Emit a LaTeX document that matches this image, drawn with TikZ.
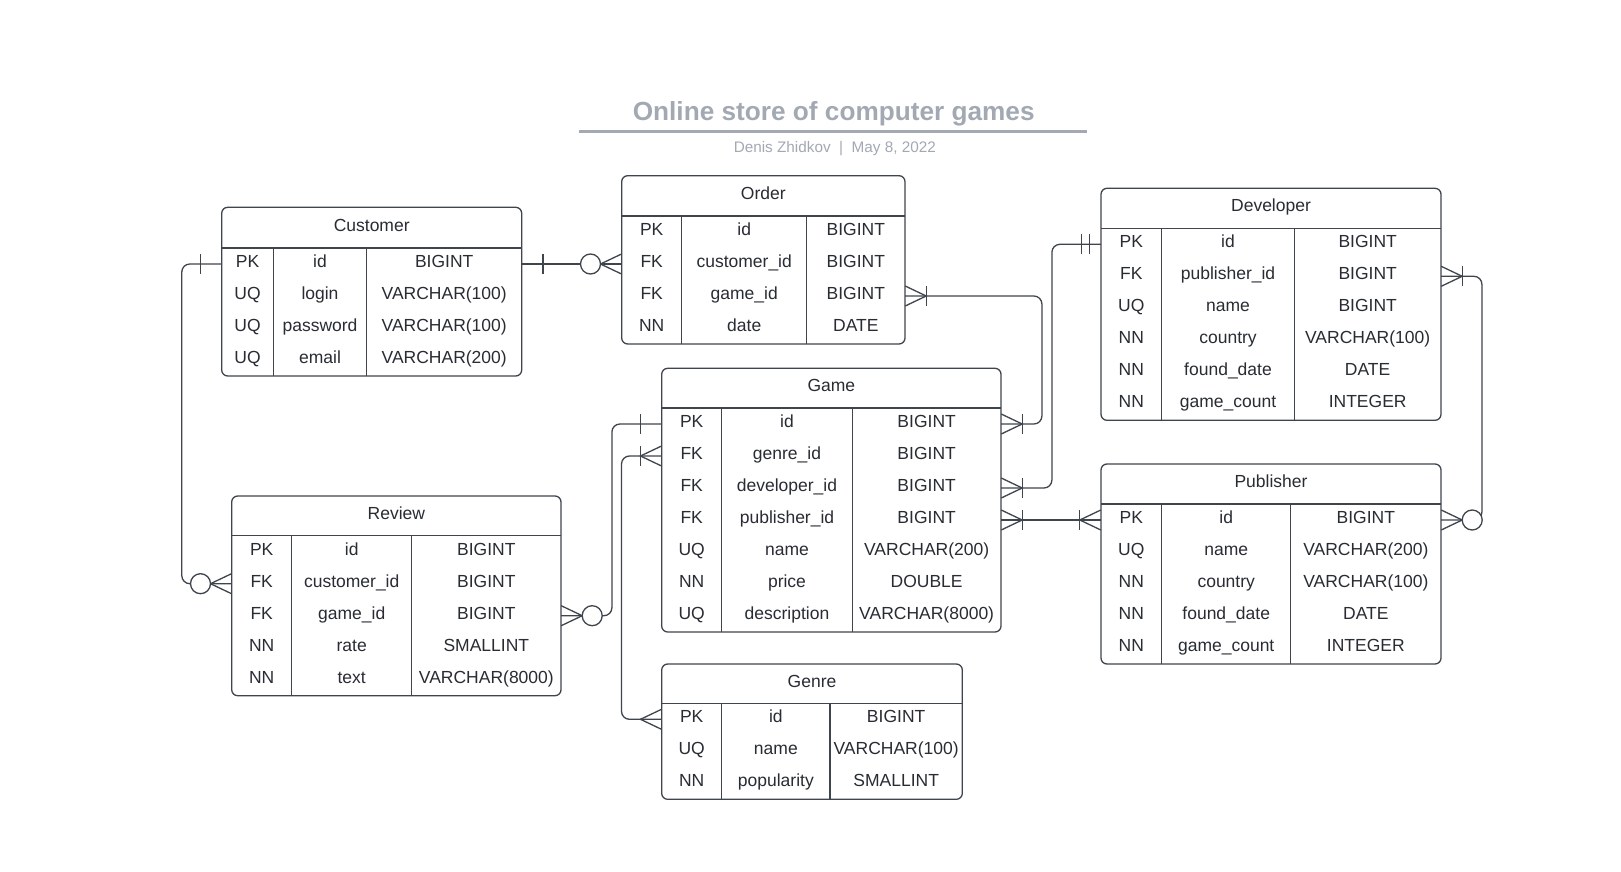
\documentclass[tikz,border=0pt]{standalone}
\usepackage{fontspec}
\setmainfont{Liberation Sans}
\usetikzlibrary{calc}
\definecolor{ink}{HTML}{282C33}
\definecolor{edge}{HTML}{3F454D}
\definecolor{titlegray}{HTML}{A3A9B3}
\tikzset{
  frame/.style={draw=edge, line width=1.3pt},
  conn/.style={draw=edge, line width=1.3pt},
  cell/.style={inner sep=0pt, minimum height=32pt, text=ink, text height=11.5pt, text depth=4.5pt,
    font=\fontsize{17.5}{21}\selectfont, anchor=center},
  hdr/.style={inner sep=0pt, text=ink, text height=11.5pt, text depth=4.5pt, font=\fontsize{17.5}{21}\selectfont},
  crowW/.pic={\draw[conn] (0,-10) -- (-21,0) -- (0,10);},
  crowE/.pic={\draw[conn] (0,-10) -- (21,0) -- (0,10);},
  barW/.pic={\draw[conn] (-21,-10) -- (-21,10);},
  barE/.pic={\draw[conn] (21,-10) -- (21,10);},
  dbarW/.pic={\draw[conn] (-19.3,-10) -- (-19.3,10) (-11,-10) -- (-11,10);},
  ringW/.pic={\draw[conn, fill=white] (-31,0) circle (10);},
  ringE/.pic={\draw[conn, fill=white] (31,0) circle (10);},
}
% #1 name, #2 left, #3 top, #4 col1, #5 col2, #6 right, #7 header bottom, #8 title, #9 rows
\newcommand{\erentity}[9]{%
  \pgfmathsetmacro{\wa}{#4-#2}%
  \pgfmathsetmacro{\wb}{#5-#4}%
  \pgfmathsetmacro{\wc}{#6-#5}%
  \foreach \ka/\fa/\ta [count=\ri] in {#9}{%
    \pgfmathsetmacro{\ry}{#7+32*\ri-16}%
    \node[cell, minimum width=\wa pt] (#1-\ri-k) at ({(#2+#4)/2}, \ry) {\ka};
    \node[cell, minimum width=\wb pt] (#1-\ri-f) at ({(#4+#5)/2}, \ry) {\fa};
    \node[cell, minimum width=\wc pt] (#1-\ri-t) at ({(#5+#6)/2}, \ry) {\ta};
    \xdef\rowcount{\ri}%
  }%
  \pgfmathsetmacro{\rb}{#7+32*\rowcount}%
  \draw[frame, rounded corners=6pt] (#2,#3) rectangle (#6,\rb);
  \draw[frame] (#2,#7) -- (#6,#7) (#4,#7) -- (#4,\rb) (#5,#7) -- (#5,\rb);
  \node[hdr] (#1-title) at ({(#2+#6)/2}, {(#3+#7)/2}) {#8};
}
\begin{document}
\begin{tikzpicture}[x=1pt,y=-1pt]
\fill[white] (0,0) rectangle (1621,872);
\useasboundingbox (0,0) rectangle (1621,872);

% title block
\node[anchor=base, font=\bfseries\fontsize{26.2}{31}\selectfont, text=titlegray, inner sep=0pt] (title) at (833.7,121) {Online store of computer games};
\draw[titlegray, line width=2pt] (579,131.5) -- (1086.5,131.5);
\node[anchor=base, font=\fontsize{15.3}{18}\selectfont, text=titlegray, inner sep=0pt] (subtitle) at (834.8,152) {Denis Zhidkov\ \ |\ \ May 8, 2022};

% entities
\erentity{cust}{221.7}{207.3}{273.3}{366.7}{521.7}{248}{Customer}
  {PK/id/BIGINT, UQ/login/VARCHAR(100), UQ/password/VARCHAR(100), UQ/email/VARCHAR(200)}
\erentity{ord}{621.7}{175.7}{681.7}{806.7}{905}{216}{Order}
  {PK/id/BIGINT, FK/customer\_id/BIGINT, FK/game\_id/BIGINT, NN/date/DATE}
\erentity{dev}{1101}{188.3}{1161.7}{1294.3}{1441}{228.3}{Developer}
  {PK/id/BIGINT, FK/publisher\_id/BIGINT, UQ/name/BIGINT, NN/country/VARCHAR(100), NN/found\_date/DATE, NN/game\_count/INTEGER}
\erentity{rev}{231.7}{496}{291.7}{411.7}{561}{535.7}{Review}
  {PK/id/BIGINT, FK/customer\_id/BIGINT, FK/game\_id/BIGINT, NN/rate/SMALLINT, NN/text/VARCHAR(8000)}
\erentity{game}{661.7}{368.3}{721.7}{852.3}{1001}{408}{Game}
  {PK/id/BIGINT, FK/genre\_id/BIGINT, FK/developer\_id/BIGINT, FK/publisher\_id/BIGINT, UQ/name/VARCHAR(200), NN/price/DOUBLE, UQ/description/VARCHAR(8000)}
\erentity{pub}{1101}{464}{1161.7}{1290.7}{1441}{504}{Publisher}
  {PK/id/BIGINT, UQ/name/VARCHAR(200), NN/country/VARCHAR(100), NN/found\_date/DATE, NN/game\_count/INTEGER}
\erentity{genre}{661.7}{664}{721.7}{830}{962.3}{703.3}{Genre}
  {PK/id/BIGINT, UQ/name/VARCHAR(100), NN/popularity/SMALLINT}

% connectors
\draw[conn] (cust-1-t.east) -- (ord-2-k.west);
\draw[conn, rounded corners=8pt] (cust-1-k.west) -- ++(-39.7,0) |- (rev-2-k.west);
\draw[conn, rounded corners=8pt] (rev-3-t.east) -- ++(50.7,0) |- (game-1-k.west);
\draw[conn, rounded corners=8pt] (game-2-k.west) -- ++(-40,0) |- (genre-1-k.west);
\draw[conn, rounded corners=8pt] (ord-3-t.east) -- ++(136.7,0) |- (game-1-t.east);
\draw[conn, rounded corners=8pt] (game-3-t.east) -- ++(50.7,0) |- (dev-1-k.west);
\draw[conn] (game-4-t.east) -- (pub-1-k.west);
\draw[conn, rounded corners=8pt] (dev-2-t.east) -- ++(40.7,0) |- (pub-1-t.east);

% ends
\path (cust-1-t.east) pic{barE};
\path (ord-2-k.west) pic{crowW} pic{ringW};
\path (cust-1-k.west) pic{barW};
\path (rev-2-k.west) pic{crowW} pic{ringW};
\path (rev-3-t.east) pic{crowE} pic{ringE};
\path (game-1-k.west) pic{barW};
\path (game-2-k.west) pic{crowW} pic{barW};
\path (genre-1-k.west) pic{crowW};
\path (ord-3-t.east) pic{crowE} pic{barE};
\path (game-1-t.east) pic{crowE} pic{barE};
\path (game-3-t.east) pic{crowE} pic{barE};
\path (dev-1-k.west) pic{dbarW};
\path (game-4-t.east) pic{crowE} pic{barE};
\path (pub-1-k.west) pic{crowW} pic{barW};
\path (dev-2-t.east) pic{crowE} pic{barE};
\path (pub-1-t.east) pic{crowE} pic{ringE};
\end{tikzpicture}
\end{document}
